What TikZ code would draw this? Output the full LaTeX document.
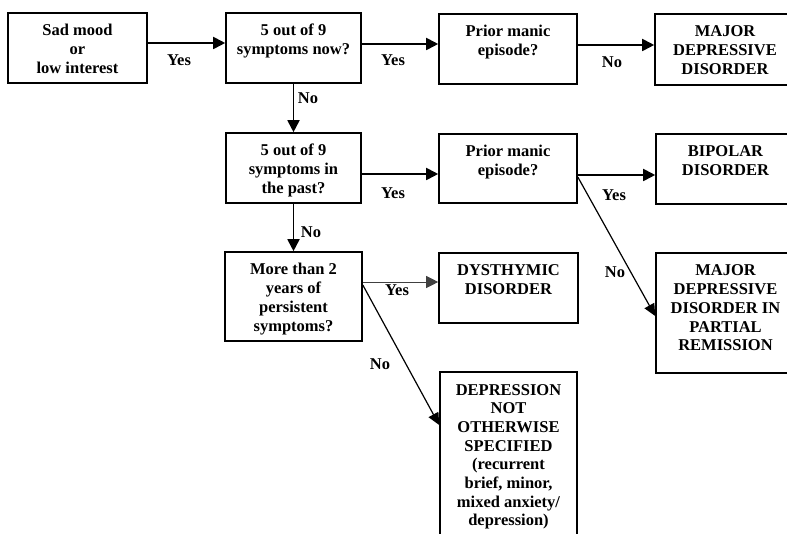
\documentclass[tikz,border=0pt]{standalone}
\usepackage{fontspec}
\setmainfont{Liberation Serif}
\usetikzlibrary{arrows.meta}
\newcommand{\bt}[3]{\parbox[c][#2pt][t]{#1pt}{\centering\rule{0pt}{23pt}#3}}
\tikzset{
  box/.style={draw, line width=1.6pt, inner sep=0pt, font=\fontsize{16.5}{18.7}\selectfont\bfseries},
  arr/.style={line width=1.8pt, -{Triangle[length=12pt,width=12pt]}},
  thinarr/.style={line width=0.8pt, draw=black!75, -{Triangle[length=12pt,width=12pt]}},
  diag/.style={line width=1.2pt, -{Triangle[length=12pt,width=11pt]}},
  lbl/.style={font=\fontsize{16.5}{18.7}\selectfont\bfseries, inner sep=0pt}
}
\begin{document}
\begin{tikzpicture}[x=1pt,y=-1pt]
\useasboundingbox (0,0) rectangle (787,534);
\node[box] (b1) at (77.5,48) {\bt{139}{70}{Sad mood\\or\\low interest}};
\node[box] (b2) at (293.5,48) {\bt{135}{70}{5 out of 9\\symptoms now?}};
\node[box] (b3) at (508,49) {\bt{138}{70}{Prior manic\\episode?}};
\node[box] (b4) at (725,49.5) {\bt{140}{71}{MAJOR\\DEPRESSIVE\\DISORDER}};
\node[box] (b5) at (293.5,168) {\bt{135}{70}{5 out of 9\\symptoms in\\the past?}};
\node[box] (b6) at (508,168.5) {\bt{138}{69}{Prior manic\\episode?}};
\node[box] (b7) at (725.5,169) {\bt{139}{70}{BIPOLAR\\DISORDER}};
\node[box] (b8) at (293.5,296.5) {\bt{137}{89}{More than 2\\years of\\persistent\\symptoms?}};
\node[box] (b9) at (508.5,288) {\bt{139}{70}{DYSTHYMIC\\DISORDER}};
\node[box] (b10) at (725.5,313) {\bt{139}{120}{MAJOR\\DEPRESSIVE\\DISORDER IN\\PARTIAL\\REMISSION}};
\node[box] (b11) at (508.5,458.5) {\bt{137}{173}{DEPRESSION\\NOT\\OTHERWISE\\SPECIFIED\\(recurrent\\brief, minor,\\mixed anxiety/\\depression)}};

\draw[arr] ([yshift=5pt]b1.east) -- ([yshift=5pt]b2.west);
\draw[arr] ([yshift=4pt]b2.east) -- ([yshift=5pt]b3.west);
\draw[arr] ([yshift=4pt]b3.east) -- ([yshift=4.5pt]b4.west);
\draw[arr] (b2.south) -- (b5.north);
\draw[arr] ([yshift=-6pt]b5.east) -- ([yshift=-5.5pt]b6.west);
\draw[arr] ([yshift=-6.5pt]b6.east) -- ([yshift=-6pt]b7.west);
\draw[diag] ([yshift=-8.5pt]b6.east) -- ([yshift=-3pt]b10.west);
\draw[arr] (b5.south) -- (b8.north);
\draw[thinarr] ([yshift=14.5pt]b8.east) -- ([yshift=6pt]b9.west);
\draw[diag] ([yshift=11.5pt]b8.east) -- ([yshift=33.5pt]b11.west);

\node[lbl] (l1) at (179,60) {Yes};
\node[lbl] (l2) at (393,60) {Yes};
\node[lbl] (l3) at (612,62) {No};
\node[lbl] (l4) at (308,98) {No};
\node[lbl] (l5) at (393,193) {Yes};
\node[lbl] (l6) at (614,195) {Yes};
\node[lbl] (l7) at (615,272) {No};
\node[lbl] (l8) at (311,232) {No};
\node[lbl] (l9) at (397,290) {Yes};
\node[lbl] (l10) at (380,364) {No};
\end{tikzpicture}
\end{document}
